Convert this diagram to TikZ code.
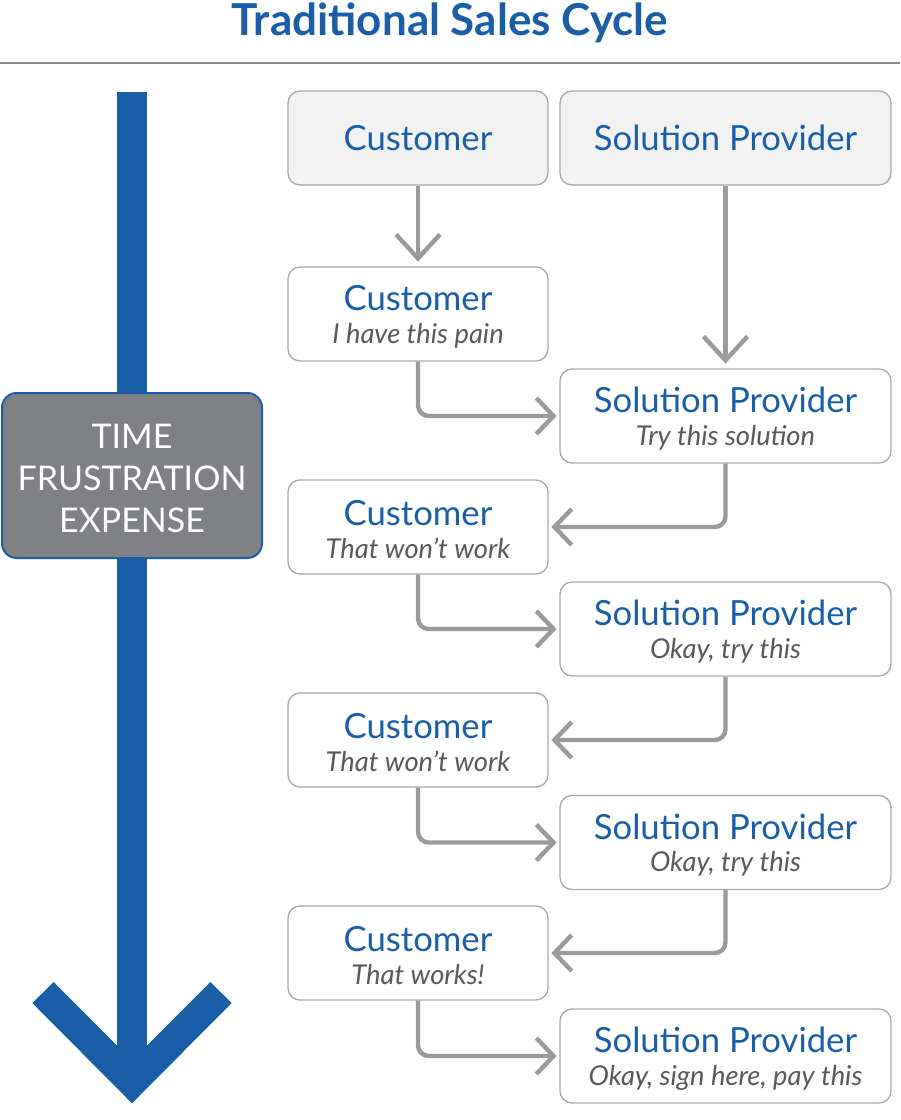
\documentclass[tikz,border=0pt]{standalone}
\usepackage{fontspec}
\setmainfont{Lato}
\usetikzlibrary{arrows.meta}
\definecolor{sblue}{RGB}{26,94,168}
\definecolor{boxgray}{RGB}{168,169,172}
\definecolor{hdrfill}{RGB}{242,242,242}
\definecolor{conngray}{RGB}{155,155,158}
\definecolor{subgray}{RGB}{88,89,91}
\definecolor{timefill}{RGB}{128,129,132}
\definecolor{rulegray}{RGB}{140,140,140}
\tikzset{
  basebox/.style={draw=boxgray, line width=1pt, rounded corners=9pt, minimum height=70.5pt, inner sep=0pt, align=center,
    font=\fontsize{20.5}{24.5}\selectfont},
  custbox/.style={basebox, fill=white, minimum width=195pt},
  provbox/.style={basebox, fill=white, minimum width=248.25pt},
  hdrbox/.style={basebox, fill=hdrfill},
  conn/.style={draw=conngray, line width=3.3pt, rounded corners=8pt, shorten >=2pt,
    -{Straight Barb[length=13pt,width=27pt]}},
  connbig/.style={conn, shorten >=3.5pt, -{Straight Barb[length=18pt,width=33pt]}},
  bluebar/.style={draw=sblue, line width=22.5pt, miter limit=10},
}
\newcommand{\hd}[1]{{\color{sblue}\fontsize{26}{26}\selectfont #1}}
\newcommand{\hdt}[1]{{\color{sblue}\fontsize{26}{26}\selectfont\rule{0pt}{23pt}#1}}
\newcommand{\sub}[1]{{\color{subgray}\itshape #1}}
\begin{document}
\begin{tikzpicture}[x=0.75pt,y=-0.75pt]
\useasboundingbox (0,0) rectangle (900,1120);
% title
\node[font=\bfseries\fontsize{33}{36}\selectfont, text=sblue] (title) at (450,23) {Traditional Sales Cycle};
\draw[rulegray, line width=1.5pt] (0,63) -- (900,63);
% blue time arrow
\coordinate (bartop) at (132,92);
\coordinate (barbot) at (132,1082);
\draw[bluebar, line cap=butt] (bartop) -- (barbot);
\draw[bluebar, line cap=butt, line join=miter] (43,992.5) -- (barbot) -- (221,992.5);
\node[draw=sblue, line width=1.5pt, fill=timefill, rounded corners=11pt, minimum width=195pt, minimum height=123.75pt,
  text=white, align=center, font=\fontsize{25.5}{31.5}\selectfont] (time) at (132,475.5) {\rule{0pt}{22pt}TIME\\FRUSTRATION\\EXPENSE};
% headers
\node[hdrbox, minimum width=195pt] (ch) at (418,138) {\hd{Customer}};
\node[hdrbox, minimum width=248.25pt] (ph) at (725.5,138) {\hd{Solution Provider}};
% steps
\node[custbox] (c1) at (418,314) {\hdt{Customer}\\\sub{I have this pain}};
\node[provbox] (p1) at (725.5,416) {\hdt{Solution Provider}\\\sub{Try this solution}};
\node[custbox] (c2) at (418,527) {\hdt{Customer}\\\sub{That won’t work}};
\node[provbox] (p2) at (725.5,629) {\hdt{Solution Provider}\\\sub{Okay, try this}};
\node[custbox] (c3) at (418,740) {\hdt{Customer}\\\sub{That won’t work}};
\node[provbox] (p3) at (725.5,842.5) {\hdt{Solution Provider}\\\sub{Okay, try this}};
\node[custbox] (c4) at (418,953) {\hdt{Customer}\\\sub{That works!}};
\node[provbox] (p4) at (725.5,1056) {\hdt{Solution Provider}\\\sub{Okay, sign here, pay this}};
% connectors
\draw[connbig] (ch.south) -- (c1.north);
\draw[connbig] (ph.south) -- (p1.north);
\draw[conn] (c1.south) |- (p1.west);
\draw[conn] (p1.south) |- (c2.east);
\draw[conn] (c2.south) |- (p2.west);
\draw[conn] (p2.south) |- (c3.east);
\draw[conn] (c3.south) |- (p3.west);
\draw[conn] (p3.south) |- (c4.east);
\draw[conn] (c4.south) |- (p4.west);
\end{tikzpicture}
\end{document}
